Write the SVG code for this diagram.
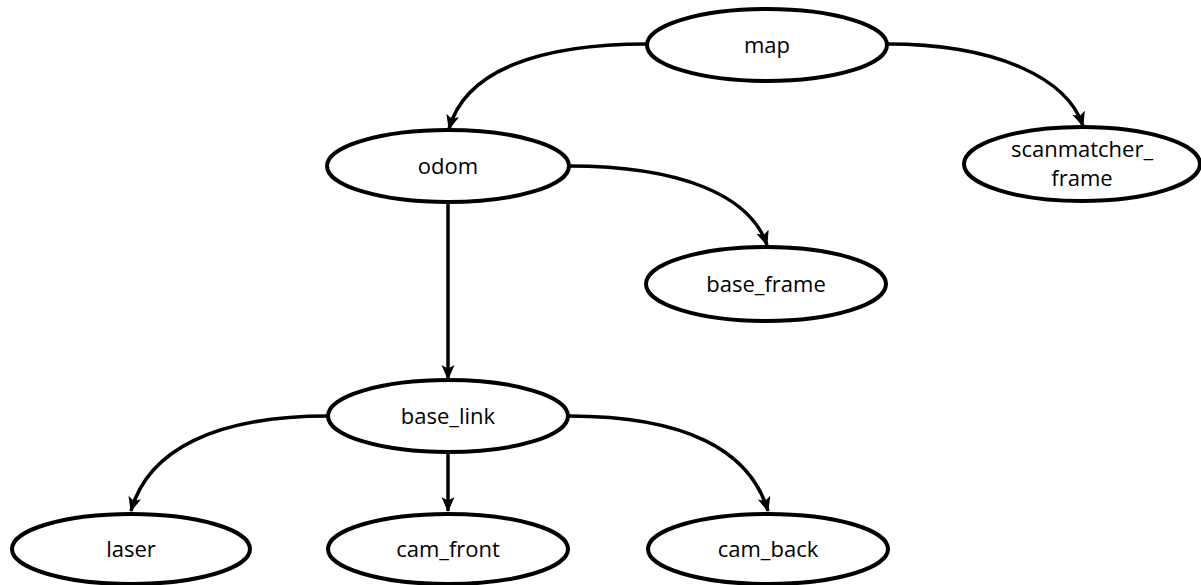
<svg xmlns="http://www.w3.org/2000/svg" width="1201" height="585" viewBox="0 0 1201 585">
<style>
.node ellipse{fill:#fff;stroke:#000;stroke-width:4}
.node text{font-family:"Open Sans","Noto Sans",sans-serif;font-size:22px;fill:#000;text-anchor:middle}
.edge{fill:none;stroke:#000;stroke-width:3.5}
</style>
<defs>
<marker id="arr" markerUnits="userSpaceOnUse" markerWidth="16" markerHeight="16" viewBox="0 0 16 16" refX="14" refY="8" orient="auto">
<path d="M0,1.5 L15,8 L0,14.5 L3.5,8 Z" fill="#000"/>
</marker>
</defs>
<rect width="1201" height="585" fill="#fff"/>
<g id="connectors">
<path class="edge" d="M647,44 C540,44 465,70 449,129" marker-end="url(#arr)"/>
<path class="edge" d="M887,44 C1000,44 1068,80 1083,126" marker-end="url(#arr)"/>
<path class="edge" d="M569,166 C680,166 750,195 767,245" marker-end="url(#arr)"/>
<path class="edge" d="M448,202 L448,379" marker-end="url(#arr)"/>
<path class="edge" d="M328,416 C215,416 148,450 131,511" marker-end="url(#arr)"/>
<path class="edge" d="M448,452 L448,511" marker-end="url(#arr)"/>
<path class="edge" d="M569,416 C685,416 750,450 768,511" marker-end="url(#arr)"/>
</g>
<g id="map" class="node"><ellipse cx="767" cy="45" rx="120" ry="36"/><text x="767" y="53">map</text></g>
<g id="scanmatcher_frame" class="node"><ellipse cx="1082" cy="164" rx="118" ry="37"/><text x="1082" y="157">scanmatcher_</text><text x="1082" y="186">frame</text></g>
<g id="odom" class="node"><ellipse cx="448" cy="166" rx="121" ry="36"/><text x="448" y="174">odom</text></g>
<g id="base_frame" class="node"><ellipse cx="766" cy="284" rx="120" ry="37"/><text x="766" y="292">base_frame</text></g>
<g id="base_link" class="node"><ellipse cx="448" cy="416" rx="120" ry="36"/><text x="448" y="424">base_link</text></g>
<g id="laser" class="node"><ellipse cx="131" cy="549" rx="119" ry="35"/><text x="131" y="557">laser</text></g>
<g id="cam_front" class="node"><ellipse cx="448" cy="549" rx="120" ry="35"/><text x="448" y="557">cam_front</text></g>
<g id="cam_back" class="node"><ellipse cx="768" cy="549" rx="120" ry="35"/><text x="768" y="557">cam_back</text></g>
</svg>
